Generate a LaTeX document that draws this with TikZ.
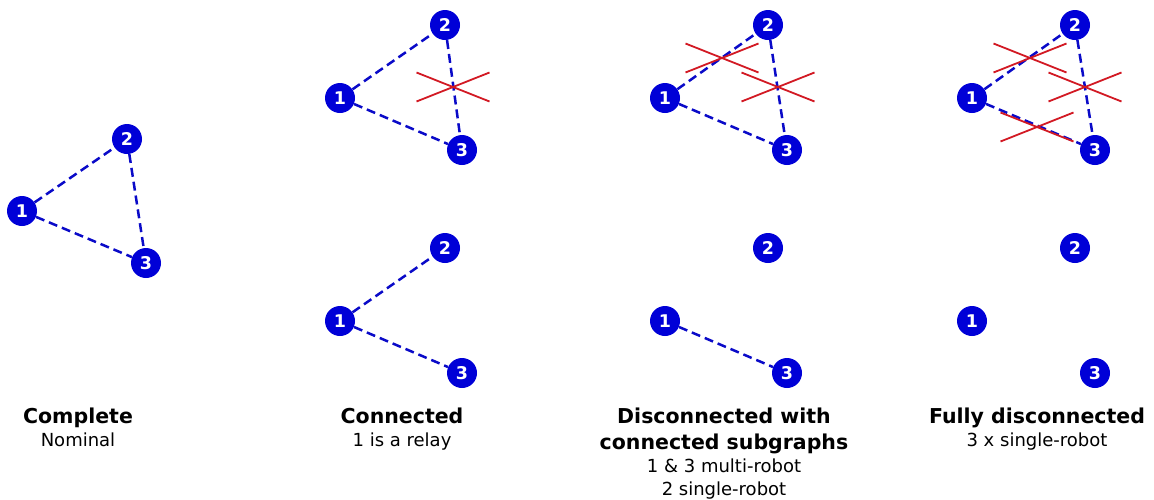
\documentclass[tikz,border=0pt]{standalone}
\usepackage{fontspec}
\setmainfont{DejaVu Sans}
\usetikzlibrary{positioning}
\definecolor{robotblue}{RGB}{0,0,215}
\definecolor{linkblue}{RGB}{10,10,200}
\definecolor{cutred}{RGB}{210,25,35}

\begin{document}
\begin{tikzpicture}[
    x=1pt, y=-1pt,
    robot/.style={circle, fill=robotblue, inner sep=0pt, minimum size=30pt,
        text=white, font=\fontsize{17.5}{17.5}\selectfont\bfseries},
    link/.style={draw=linkblue, line width=2.5pt, dash pattern=on 9pt off 5pt},
    title/.style={anchor=base, inner sep=0pt, font=\fontsize{20.5}{26}\selectfont\bfseries},
    caption/.style={anchor=base, inner sep=0pt, font=\fontsize{18}{23}\selectfont},
    cut/.pic={
        \draw[cutred, line width=1.8pt] (-36.5,-14.5) -- (36.5,14.5)
            (-36.5,14.5) -- (36.5,-14.5);
    }
]
    \useasboundingbox (0,0) rectangle (1154,499);

    % complete
    \node[robot] (a1) at (22,211) {1};
    \node[robot] (a2) at (127,139) {2};
    \node[robot] (a3) at (146,263) {3};
    \path[link] (a1) edge (a2) (a2) edge (a3) (a1) edge (a3);

    % connected
    \node[robot] (b1) at (340,98) {1};
    \node[robot] (b2) at (445,25) {2};
    \node[robot] (b3) at (462,150) {3};
    \path[link] (b1) edge (b2) (b2) edge (b3) (b1) edge (b3);
    \pic at (453,87) {cut};
    \node[robot] (bb1) at (340,321) {1};
    \node[robot] (bb2) at (445,248) {2};
    \node[robot] (bb3) at (462,373) {3};
    \path[link] (bb1) edge (bb2) (bb1) edge (bb3);

    % disconnected with subgraphs
    \node[robot] (c1) at (665,98) {1};
    \node[robot] (c2) at (768,25) {2};
    \node[robot] (c3) at (787,150) {3};
    \path[link] (c1) edge (c2) (c2) edge (c3) (c1) edge (c3);
    \pic at (722,58) {cut};
    \pic at (778,87) {cut};
    \node[robot] (cc1) at (665,321) {1};
    \node[robot] (cc2) at (768,248) {2};
    \node[robot] (cc3) at (787,373) {3};
    \path[link] (cc1) edge (cc3);

    % fully disconnected
    \node[robot] (d1) at (972,98) {1};
    \node[robot] (d2) at (1075,25) {2};
    \node[robot] (d3) at (1095,150) {3};
    \path[link] (d1) edge (d2) (d2) edge (d3) (d1) edge (d3);
    \pic at (1030,58) {cut};
    \pic at (1085,87) {cut};
    \pic at (1037,127) {cut};
    \node[robot] (dd1) at (972,321) {1};
    \node[robot] (dd2) at (1075,248) {2};
    \node[robot] (dd3) at (1095,373) {3};

    % labels
    \node[title] (ta) at (78,423.5) {Complete};
    \node[caption] (sa) at (78,446.5) {Nominal};
    \node[title] (tb) at (402,423.5) {Connected};
    \node[caption] (sb) at (402,446.5) {1 is a relay};
    \node[title] (tc) at (724,423.5) {Disconnected with};
    \node[title] (tc2) at (724,449.5) {connected subgraphs};
    \node[caption] (sc) at (724,472.5) {1 \& 3 multi-robot};
    \node[caption] (sc2) at (724,495.5) {2 single-robot};
    \node[title] (td) at (1037,423.5) {Fully disconnected};
    \node[caption] (sd) at (1037,446.5) {3 x single-robot};
\end{tikzpicture}
\end{document}
